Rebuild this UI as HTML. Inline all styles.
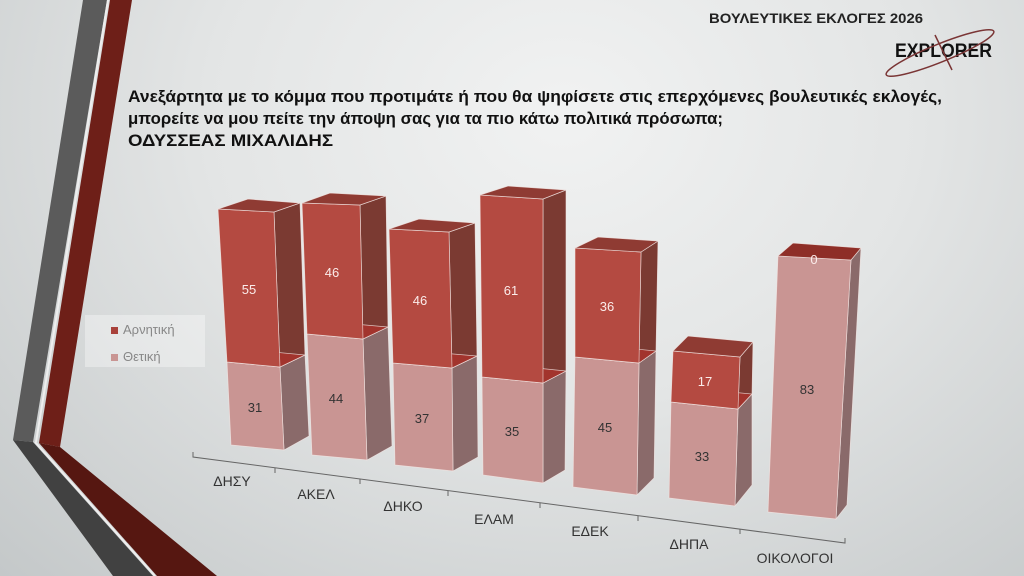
<!DOCTYPE html>
<html><head><meta charset="utf-8"><style>
html,body{margin:0;padding:0;width:1024px;height:576px;overflow:hidden}
body{background:radial-gradient(ellipse at 55% 20%,#f1f2f2 0%,#e3e5e5 45%,#c4c8c9 100%);font-family:"Liberation Sans","DejaVu Sans",sans-serif}
svg{position:absolute;left:0;top:0}
</style></head><body>
<svg width="1024" height="576" viewBox="0 0 1024 576" xmlns="http://www.w3.org/2000/svg" font-family="Liberation Sans, DejaVu Sans, sans-serif">
<polygon points="83,0 107,0 33,442 13,440" fill="#5b5b5b"/>
<polygon points="13,440 33,442 153,576 113,576" fill="#414141"/>
<polygon points="110,0 132,0 60,447 39,443" fill="#6e1f18"/>
<polygon points="39,443 60,447 217,576 157,576" fill="#561711"/>
<line x1="108" y1="0" x2="36" y2="442" stroke="#eee" stroke-width="2"/>
<line x1="35" y1="442" x2="155" y2="576" stroke="#eee" stroke-width="2"/>

<text x="709" y="23" font-size="14" font-weight="bold" fill="#222" textLength="214" lengthAdjust="spacingAndGlyphs">ΒΟΥΛΕΥΤΙΚΕΣ ΕΚΛΟΓΕΣ 2026</text>
<text x="895" y="57" font-size="19" font-weight="bold" fill="#111" textLength="97" lengthAdjust="spacingAndGlyphs">EXPLORER</text>
<ellipse cx="940" cy="53" rx="58" ry="9" transform="rotate(-22 940 53)" fill="none" stroke="#7a3535" stroke-width="1.5"/>
<line x1="935" y1="35" x2="952" y2="70" stroke="#7a3535" stroke-width="1.5"/>

<g font-size="17" font-weight="bold" fill="#111">
<text x="128" y="102" textLength="814" lengthAdjust="spacingAndGlyphs">Ανεξάρτητα με το κόμμα που προτιμάτε ή που θα ψηφίσετε στις επερχόμενες βουλευτικές εκλογές,</text>
<text x="128" y="124" textLength="595" lengthAdjust="spacingAndGlyphs">μπορείτε να μου πείτε την άποψη σας για τα πιο κάτω πολιτικά πρόσωπα;</text>
<text x="128" y="146" textLength="205" lengthAdjust="spacingAndGlyphs">ΟΔΥΣΣΕΑΣ ΜΙΧΑΛΙΔΗΣ</text>
</g>

<rect x="85" y="315" width="120" height="52" fill="#fff" fill-opacity="0.35"/>
<rect x="111" y="327" width="7" height="7" fill="#a8413a"/>
<text x="123" y="334" font-size="13" fill="#888">Αρνητική</text>
<rect x="111" y="354" width="7" height="7" fill="#c99593"/>
<text x="123" y="361" font-size="13" fill="#888">Θετική</text>

<g stroke="#666" stroke-width="1" fill="none">
<polyline points="193,452 193,457 845,543 845,538"/>
<line x1="275" y1="468" x2="275" y2="473"/>
<line x1="360" y1="479" x2="360" y2="484"/>
<line x1="448" y1="491" x2="448" y2="496"/>
<line x1="540" y1="503" x2="540" y2="508"/>
<line x1="638" y1="516" x2="638" y2="521"/>
<line x1="740" y1="529" x2="740" y2="534"/>
</g>
<g font-size="14" fill="#333" text-anchor="middle">
<text x="232" y="486">ΔΗΣΥ</text>
<text x="316" y="499">ΑΚΕΛ</text>
<text x="403" y="511">ΔΗΚΟ</text>
<text x="494" y="524">ΕΛΑΜ</text>
<text x="590" y="536">ΕΔΕΚ</text>
<text x="689" y="549">ΔΗΠΑ</text>
<text x="795" y="563">ΟΙΚΟΛΟΓΟΙ</text>
</g>

<g stroke="#f3e6e4" stroke-width="0.7" stroke-opacity="0.8">
<polygon points="280,367 305,355 309,436 284,450" fill="#8a6a6a"/>
<polygon points="227,362 280,367 284,450 231,445" fill="#c99593"/>
<polygon points="274,212 300,203 305,355 280,367" fill="#7b3a32"/>
<polygon points="227,362 280,367 305,355 252,350" fill="#a2342d"/>
<polygon points="218,209 274,212 280,367 227,362" fill="#b44a41"/>
<polygon points="218,209 274,212 300,203 248,199" fill="#8f3b33"/>
<polygon points="363,339 388,327 392,446 367,460" fill="#8a6a6a"/>
<polygon points="307,334 363,339 367,460 312,455" fill="#c99593"/>
<polygon points="360,205 386,196 388,327 363,339" fill="#7b3a32"/>
<polygon points="307,334 363,339 388,327 332,322" fill="#a2342d"/>
<polygon points="302,203 360,205 363,339 307,334" fill="#b44a41"/>
<polygon points="302,203 360,205 386,196 330,193" fill="#8f3b33"/>
<polygon points="452,368 477,356 478,457 453,471" fill="#8a6a6a"/>
<polygon points="393,363 452,368 453,471 395,465" fill="#c99593"/>
<polygon points="449,232 475,223 477,356 452,368" fill="#7b3a32"/>
<polygon points="393,363 452,368 477,356 418,351" fill="#a2342d"/>
<polygon points="389,229 449,232 452,368 393,363" fill="#b44a41"/>
<polygon points="389,229 449,232 475,223 419,219" fill="#8f3b33"/>
<polygon points="543,383 566,371 565,470 543,483" fill="#8a6a6a"/>
<polygon points="482,377 543,383 543,483 483,475" fill="#c99593"/>
<polygon points="543,199 566,190 566,371 543,383" fill="#7b3a32"/>
<polygon points="482,377 543,383 566,371 507,365" fill="#a2342d"/>
<polygon points="480,195 543,199 543,383 482,377" fill="#b44a41"/>
<polygon points="480,195 543,199 566,190 508,186" fill="#8f3b33"/>
<polygon points="639,363 656,351 654,478 637,495" fill="#8a6a6a"/>
<polygon points="575,357 639,363 637,495 573,487" fill="#c99593"/>
<polygon points="641,252 658,241 656,351 639,363" fill="#7b3a32"/>
<polygon points="575,357 639,363 656,351 595,345" fill="#a2342d"/>
<polygon points="575,248 641,252 639,363 575,357" fill="#b44a41"/>
<polygon points="575,248 641,252 658,241 598,237" fill="#8f3b33"/>
<polygon points="738,409 752,394 752,485 735,506" fill="#8a6a6a"/>
<polygon points="671,402 738,409 735,506 669,498" fill="#c99593"/>
<polygon points="740,357 753,342 752,394 738,409" fill="#7b3a32"/>
<polygon points="671,402 738,409 752,394 688,388" fill="#a2342d"/>
<polygon points="673,351 740,357 738,409 671,402" fill="#b44a41"/>
<polygon points="673,351 740,357 753,342 688,336" fill="#8f3b33"/>
<polygon points="851,260 861,248 847,505 836,519" fill="#8a6a6a"/>
<polygon points="778,256 851,260 836,519 768,512" fill="#c99593"/>
<polygon points="778,256 851,260 861,248 793,243" fill="#8e2e27"/>
</g>

<g font-size="13" text-anchor="middle">
<g fill="#fbecea">
<text x="249" y="294">55</text>
<text x="332" y="277">46</text>
<text x="420" y="305">46</text>
<text x="511" y="295">61</text>
<text x="607" y="311">36</text>
<text x="705" y="386">17</text>
<text x="814" y="264">0</text>
</g>
<g fill="#333">
<text x="255" y="412">31</text>
<text x="336" y="403">44</text>
<text x="422" y="423">37</text>
<text x="512" y="436">35</text>
<text x="605" y="432">45</text>
<text x="702" y="461">33</text>
<text x="807" y="394">83</text>
</g>
</g>
</svg>
</body></html>
